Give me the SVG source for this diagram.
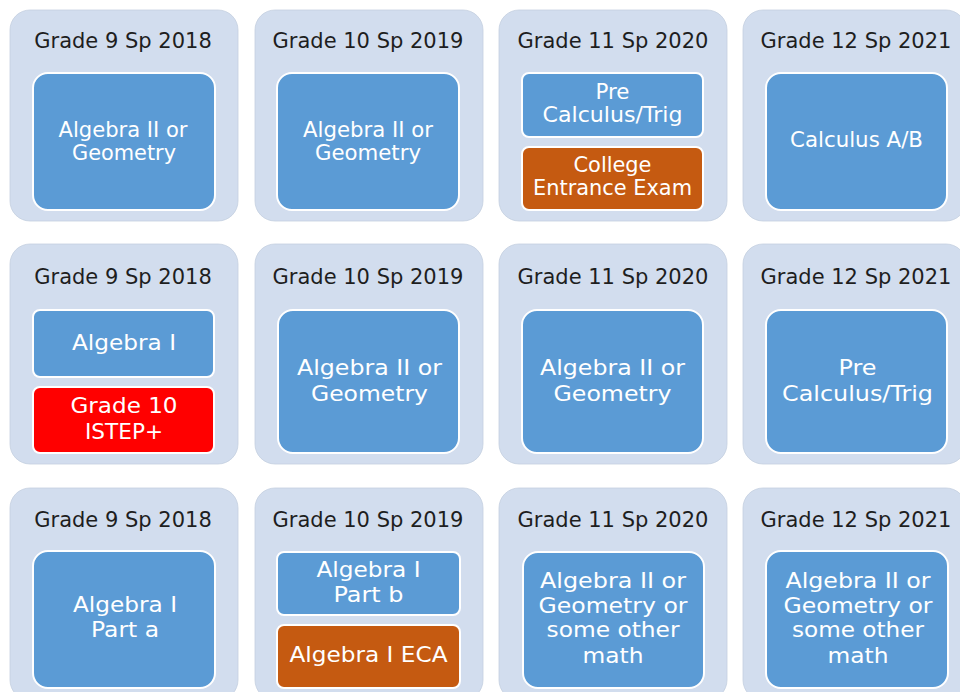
<svg xmlns="http://www.w3.org/2000/svg" width="960" height="692" viewBox="0 0 960 692">
<style>
.panel{fill:#d2ddee;stroke:#c4cfe0;stroke-width:0.8}
.box{fill:#5b9bd5;stroke:#ffffff;stroke-width:2}
.orange{fill:#c55a11;stroke:#ffffff;stroke-width:2}
.red{fill:#ff0000;stroke:#ffffff;stroke-width:2}
.title{font-family:"DejaVu Sans","Liberation Sans",sans-serif;font-size:21px;fill:#1e1e1e;text-anchor:middle}
.t{font-family:"DejaVu Sans","Liberation Sans",sans-serif;font-size:20.5px;fill:#ffffff;text-anchor:middle}
</style>
<rect width="960" height="692" fill="#ffffff"/>
<g id="connectors"/>

<!-- Row 1 -->
<g id="r1c1">
<rect class="panel" x="10" y="10" width="228" height="211" rx="20"/>
<text class="title" x="123" y="48">Grade 9 Sp 2018</text>
<g id="r1c1-course"><rect class="box" x="33" y="73" width="182" height="137" rx="15"/>
<text class="t" x="123" y="137" textLength="129" lengthAdjust="spacingAndGlyphs">Algebra II or</text>
<text class="t" x="124" y="160" textLength="104" lengthAdjust="spacingAndGlyphs">Geometry</text></g>
</g>
<g id="r1c2">
<rect class="panel" x="255" y="10" width="228" height="211" rx="20"/>
<text class="title" x="368" y="48">Grade 10 Sp 2019</text>
<g id="r1c2-course"><rect class="box" x="277" y="73" width="182" height="137" rx="15"/>
<text class="t" x="368" y="137" textLength="130" lengthAdjust="spacingAndGlyphs">Algebra II or</text>
<text class="t" x="368" y="160" textLength="106" lengthAdjust="spacingAndGlyphs">Geometry</text></g>
</g>
<g id="r1c3">
<rect class="panel" x="499" y="10" width="228" height="211" rx="20"/>
<text class="title" x="613" y="48">Grade 11 Sp 2020</text>
<g id="r1c3-course"><rect class="box" x="522" y="73" width="181" height="64" rx="7"/>
<text class="t" x="612.5" y="99" textLength="34" lengthAdjust="spacingAndGlyphs">Pre</text>
<text class="t" x="612.5" y="122" textLength="140" lengthAdjust="spacingAndGlyphs">Calculus/Trig</text></g>
<g id="r1c3-exam"><rect class="orange" x="522" y="147" width="181" height="63" rx="7"/>
<text class="t" x="612.5" y="172" textLength="78" lengthAdjust="spacingAndGlyphs">College</text>
<text class="t" x="612.5" y="195" textLength="159" lengthAdjust="spacingAndGlyphs">Entrance Exam</text></g>
</g>
<g id="r1c4">
<rect class="panel" x="743" y="10" width="223" height="211" rx="20"/>
<text class="title" x="856" y="48">Grade 12 Sp 2021</text>
<g id="r1c4-course"><rect class="box" x="766" y="73" width="181" height="137" rx="15"/>
<text class="t" x="856.5" y="147" textLength="133" lengthAdjust="spacingAndGlyphs">Calculus A/B</text></g>
</g>

<!-- Row 2 -->
<g id="r2c1">
<rect class="panel" x="10" y="244" width="228" height="220" rx="20"/>
<text class="title" x="123" y="284">Grade 9 Sp 2018</text>
<g id="r2c1-course"><rect class="box" x="33" y="310" width="181" height="67" rx="7"/>
<text class="t" x="124" y="350" textLength="104" lengthAdjust="spacingAndGlyphs">Algebra I</text></g>
<g id="r2c1-exam"><rect class="red" x="33" y="387" width="181" height="66" rx="7"/>
<text class="t" x="124" y="413" textLength="107" lengthAdjust="spacingAndGlyphs">Grade 10</text>
<text class="t" x="124" y="439" textLength="78" lengthAdjust="spacingAndGlyphs">ISTEP+</text></g>
</g>
<g id="r2c2">
<rect class="panel" x="255" y="244" width="228" height="220" rx="20"/>
<text class="title" x="368" y="284">Grade 10 Sp 2019</text>
<g id="r2c2-course"><rect class="box" x="278" y="310" width="181" height="143" rx="15"/>
<text class="t" x="369.5" y="375" textLength="145" lengthAdjust="spacingAndGlyphs">Algebra II or</text>
<text class="t" x="369.5" y="401" textLength="117" lengthAdjust="spacingAndGlyphs">Geometry</text></g>
</g>
<g id="r2c3">
<rect class="panel" x="499" y="244" width="228" height="220" rx="20"/>
<text class="title" x="613" y="284">Grade 11 Sp 2020</text>
<g id="r2c3-course"><rect class="box" x="522" y="310" width="181" height="143" rx="15"/>
<text class="t" x="612.5" y="375" textLength="145" lengthAdjust="spacingAndGlyphs">Algebra II or</text>
<text class="t" x="612.5" y="401" textLength="118" lengthAdjust="spacingAndGlyphs">Geometry</text></g>
</g>
<g id="r2c4">
<rect class="panel" x="743" y="244" width="223" height="220" rx="20"/>
<text class="title" x="856" y="284">Grade 12 Sp 2021</text>
<g id="r2c4-course"><rect class="box" x="766" y="310" width="181" height="143" rx="15"/>
<text class="t" x="857.5" y="375" textLength="38" lengthAdjust="spacingAndGlyphs">Pre</text>
<text class="t" x="857.5" y="401" textLength="151" lengthAdjust="spacingAndGlyphs">Calculus/Trig</text></g>
</g>

<!-- Row 3 -->
<g id="r3c1">
<rect class="panel" x="10" y="488" width="228" height="212" rx="20"/>
<text class="title" x="123" y="527">Grade 9 Sp 2018</text>
<g id="r3c1-course"><rect class="box" x="33" y="551" width="182" height="137" rx="15"/>
<text class="t" x="125" y="612" textLength="104" lengthAdjust="spacingAndGlyphs">Algebra I</text>
<text class="t" x="125" y="637" textLength="68" lengthAdjust="spacingAndGlyphs">Part a</text></g>
</g>
<g id="r3c2">
<rect class="panel" x="255" y="488" width="228" height="212" rx="20"/>
<text class="title" x="368" y="527">Grade 10 Sp 2019</text>
<g id="r3c2-course"><rect class="box" x="277" y="552" width="183" height="63" rx="7"/>
<text class="t" x="368.5" y="577" textLength="104" lengthAdjust="spacingAndGlyphs">Algebra I</text>
<text class="t" x="368.5" y="602" textLength="70" lengthAdjust="spacingAndGlyphs">Part b</text></g>
<g id="r3c2-exam"><rect class="orange" x="277" y="625" width="183" height="63" rx="7"/>
<text class="t" x="368.5" y="662" textLength="158" lengthAdjust="spacingAndGlyphs">Algebra I ECA</text></g>
</g>
<g id="r3c3">
<rect class="panel" x="499" y="488" width="228" height="212" rx="20"/>
<text class="title" x="613" y="527">Grade 11 Sp 2020</text>
<g id="r3c3-course"><rect class="box" x="523" y="552" width="181" height="136" rx="15"/>
<text class="t" x="613" y="588" textLength="146" lengthAdjust="spacingAndGlyphs">Algebra II or</text>
<text class="t" x="613" y="613" textLength="149" lengthAdjust="spacingAndGlyphs">Geometry or</text>
<text class="t" x="613" y="637" textLength="133" lengthAdjust="spacingAndGlyphs">some other</text>
<text class="t" x="613" y="663" textLength="61" lengthAdjust="spacingAndGlyphs">math</text></g>
</g>
<g id="r3c4">
<rect class="panel" x="743" y="488" width="223" height="212" rx="20"/>
<text class="title" x="856" y="527">Grade 12 Sp 2021</text>
<g id="r3c4-course"><rect class="box" x="766" y="551" width="182" height="137" rx="15"/>
<text class="t" x="858" y="588" textLength="145" lengthAdjust="spacingAndGlyphs">Algebra II or</text>
<text class="t" x="858" y="613" textLength="149" lengthAdjust="spacingAndGlyphs">Geometry or</text>
<text class="t" x="858" y="637" textLength="132" lengthAdjust="spacingAndGlyphs">some other</text>
<text class="t" x="858" y="663" textLength="61" lengthAdjust="spacingAndGlyphs">math</text></g>
</g>
</svg>
